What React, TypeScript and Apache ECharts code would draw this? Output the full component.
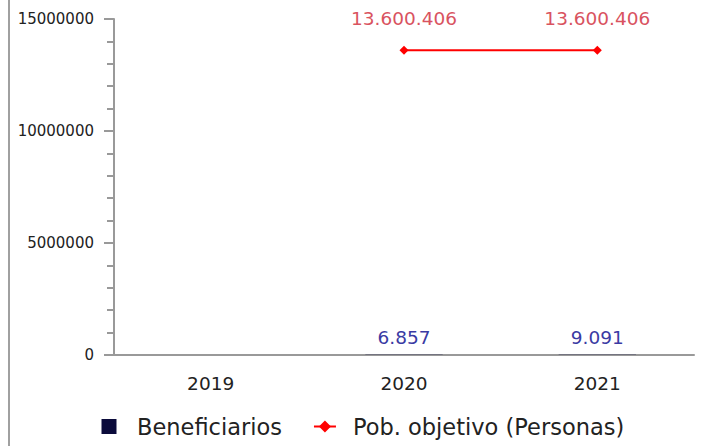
import React, { useEffect, useRef } from "react";
import * as echarts from "echarts";

const categories = ["2019", "2020", "2021"];
const beneficiarios: (number | null)[] = [null, 6857, 9091];
const poblacionObjetivo: (number | null)[] = [null, 13600406, 13600406];
const yTicks = { min: 0, max: 15000000, interval: 5000000, minorInterval: 1000000 };

const fmt = (v: number) => Math.round(v).toString().replace(/\B(?=(\d{3})+(?!\d))/g, ".");

const FONT = "DejaVu Sans";
const AXIS = "#999999";

export default function App() {
  const ref = useRef<HTMLDivElement>(null);
  useEffect(() => {
    if (!ref.current) return;
    const chart = echarts.init(ref.current, undefined, { renderer: "svg" });
    chart.setOption({
      animation: false,
      textStyle: { fontFamily: FONT },
      graphic: [
        {
          type: "rect",
          left: 8,
          top: 0,
          shape: { width: 2, height: 446 },
          style: { fill: "#a0a0a0" },
        },
      ],
      grid: { left: 114, right: 10, top: 19, bottom: 91, containLabel: false },
      legend: {
        bottom: 3,
        left: 96.5,
        itemGap: 31,
        itemWidth: 22,
        itemHeight: 15,
        symbolKeepAspect: true,
        textStyle: { fontFamily: FONT, fontSize: 22.5, color: "#222", padding: [0, 0, 0, 12] },
        data: [
          { name: "Beneficiarios", icon: "path://M0,0h10v10h-10z" },
          { name: "Pob. objetivo (Personas)" },
        ],
      },
      xAxis: {
        type: "category",
        data: categories,
        axisLine: { lineStyle: { color: AXIS, width: 2 } },
        axisTick: { show: false },
        axisLabel: { fontFamily: FONT, fontSize: 18.5, color: "#222", margin: 19 },
      },
      yAxis: [
        {
          type: "value",
          min: yTicks.min,
          max: yTicks.max,
          interval: yTicks.interval,
          splitLine: { show: false },
          axisLine: { show: true, lineStyle: { color: AXIS, width: 2 } },
          axisTick: { show: true, length: 10, lineStyle: { color: AXIS, width: 2 } },
          axisLabel: { fontFamily: FONT, fontSize: 15, color: "#222", margin: 20, formatter: (v: number) => String(v) },
        },
        {
          type: "value",
          position: "left",
          min: yTicks.min,
          max: yTicks.max,
          interval: yTicks.minorInterval,
          splitLine: { show: false },
          axisLine: { show: false },
          axisTick: { show: true, length: 7, lineStyle: { color: AXIS, width: 2 } },
          axisLabel: { show: false },
        },
      ],
      series: [
        {
          name: "Beneficiarios",
          type: "bar",
          yAxisIndex: 0,
          data: beneficiarios,
          barWidth: "40%",
          itemStyle: { color: "#0b0b3b" },
          label: {
            show: true,
            position: "top",
            distance: 8,
            fontFamily: FONT,
            fontSize: 18.5,
            color: "#3a3aa3",
            formatter: (p: any) => fmt(p.value),
          },
        },
        {
          name: "Pob. objetivo (Personas)",
          type: "line",
          yAxisIndex: 0,
          data: poblacionObjetivo,
          symbol: "diamond",
          symbolSize: 9,
          itemStyle: { color: "#ff0000" },
          lineStyle: { color: "#ff0000", width: 2 },
          label: {
            show: true,
            position: "top",
            distance: 18,
            fontFamily: FONT,
            fontSize: 18.5,
            color: "#d9535f",
            formatter: (p: any) => fmt(p.value),
          },
        },
      ],
    });
    return () => chart.dispose();
  }, []);
  return (
    <div style={{ position: "fixed", left: 0, top: 0, width: 704, height: 446, background: "#fff" }}>
      <div ref={ref} style={{ width: 704, height: 446 }} />
    </div>
  );
}
